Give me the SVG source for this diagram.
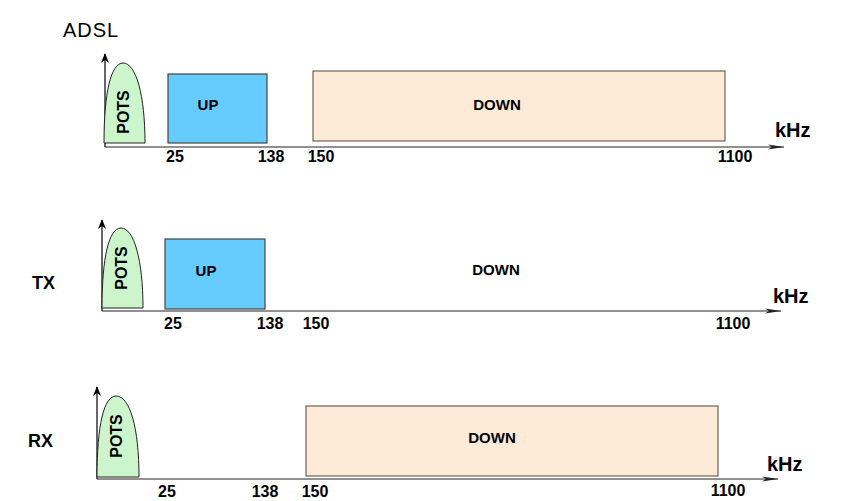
<svg xmlns="http://www.w3.org/2000/svg" width="851" height="501" viewBox="0 0 851 501">
<defs>
<marker id="ah" markerWidth="10" markerHeight="8" refX="9" refY="4" orient="auto" markerUnits="userSpaceOnUse">
<path d="M0,0 L10,4 L0,8 L3,4 Z" fill="#000"/>
</marker>
<marker id="ax" markerWidth="16" markerHeight="6" refX="16" refY="3" orient="auto" markerUnits="userSpaceOnUse">
<path d="M0,0.5 L16,3 L0,5.5 L4,3 Z" fill="#222"/>
</marker>
</defs>
<style>
text{font-family:"Liberation Sans",Arial,sans-serif;fill:#000}
.num{font-size:16px;font-weight:bold;text-anchor:middle}
.band{font-size:15px;font-weight:bold;text-anchor:middle}
.khz{font-size:20px;font-weight:bold}
.side{font-size:18px;font-weight:bold}
.pots{fill:#ccf5cc;stroke:#222;stroke-width:1}
.up{fill:#66ccff;stroke:#444;stroke-width:1.2}
.down{fill:#fdebd8;stroke:#6e6258;stroke-width:1.2}
.yaxis{stroke:#000;stroke-width:1.2;fill:none}
.xaxis{stroke:#222;stroke-width:1.2;fill:none}
.potst{font-size:16px;font-weight:bold;text-anchor:middle}
</style>
<text x="63" y="37" style="font-size:20px;letter-spacing:1px">ADSL</text>
<g id="connectors">
<line class="yaxis" x1="105" y1="147" x2="105" y2="54" marker-end="url(#ah)"/>
<line class="xaxis" x1="105" y1="147" x2="784" y2="147" marker-end="url(#ax)"/>
<line class="yaxis" x1="102" y1="311" x2="102" y2="220" marker-end="url(#ah)"/>
<line class="xaxis" x1="102" y1="311" x2="781" y2="311" marker-end="url(#ax)"/>
<line class="yaxis" x1="97" y1="479" x2="97" y2="387" marker-end="url(#ah)"/>
<line class="xaxis" x1="97" y1="479" x2="778" y2="479" marker-end="url(#ax)"/>
</g>
<g id="adsl-pots">
<path class="pots" d="M104,143 C104,92 111,63 123,63 C136,63 145,95 145,143 Z"/>
<text class="potst" transform="translate(129,112) rotate(-90)">POTS</text>
</g>
<g id="adsl-up">
<rect class="up" x="168" y="74" width="99" height="69"/>
<text class="band" x="208" y="110">UP</text>
</g>
<g id="adsl-down">
<rect class="down" x="313" y="71" width="412" height="70"/>
<text class="band" x="497" y="110">DOWN</text>
</g>
<g id="adsl-labels">
<text class="num" x="175" y="162">25</text>
<text class="num" x="271" y="162">138</text>
<text class="num" x="321" y="162">150</text>
<text class="num" x="735" y="162">1100</text>
<text class="khz" x="775" y="137">kHz</text>
</g>
<g id="tx-pots">
<path class="pots" d="M102,308 C102,257 109,228 121,228 C134,228 143,260 143,308 Z"/>
<text class="potst" transform="translate(127,268) rotate(-90)">POTS</text>
</g>
<g id="tx-up">
<rect class="up" x="165" y="239" width="100" height="70"/>
<text class="band" x="206" y="276">UP</text>
</g>
<g id="tx-down">
<text class="band" x="496" y="275">DOWN</text>
</g>
<g id="tx-labels">
<text class="side" x="32" y="289">TX</text>
<text class="num" x="173" y="329">25</text>
<text class="num" x="270" y="329">138</text>
<text class="num" x="316" y="329">150</text>
<text class="num" x="733" y="329">1100</text>
<text class="khz" x="773" y="303">kHz</text>
</g>
<g id="rx-pots">
<path class="pots" d="M97,477 C97,425 104,396 116,396 C130,396 139,428 139,477 Z"/>
<text class="potst" transform="translate(122,436) rotate(-90)">POTS</text>
</g>
<g id="rx-down">
<rect class="down" x="306" y="406" width="412" height="70"/>
<text class="band" x="492" y="443">DOWN</text>
</g>
<g id="rx-labels">
<text class="side" x="28" y="447">RX</text>
<text class="num" x="167" y="497">25</text>
<text class="num" x="265" y="497">138</text>
<text class="num" x="315" y="497">150</text>
<text class="num" x="728" y="496">1100</text>
<text class="khz" x="767" y="471">kHz</text>
</g>
</svg>
